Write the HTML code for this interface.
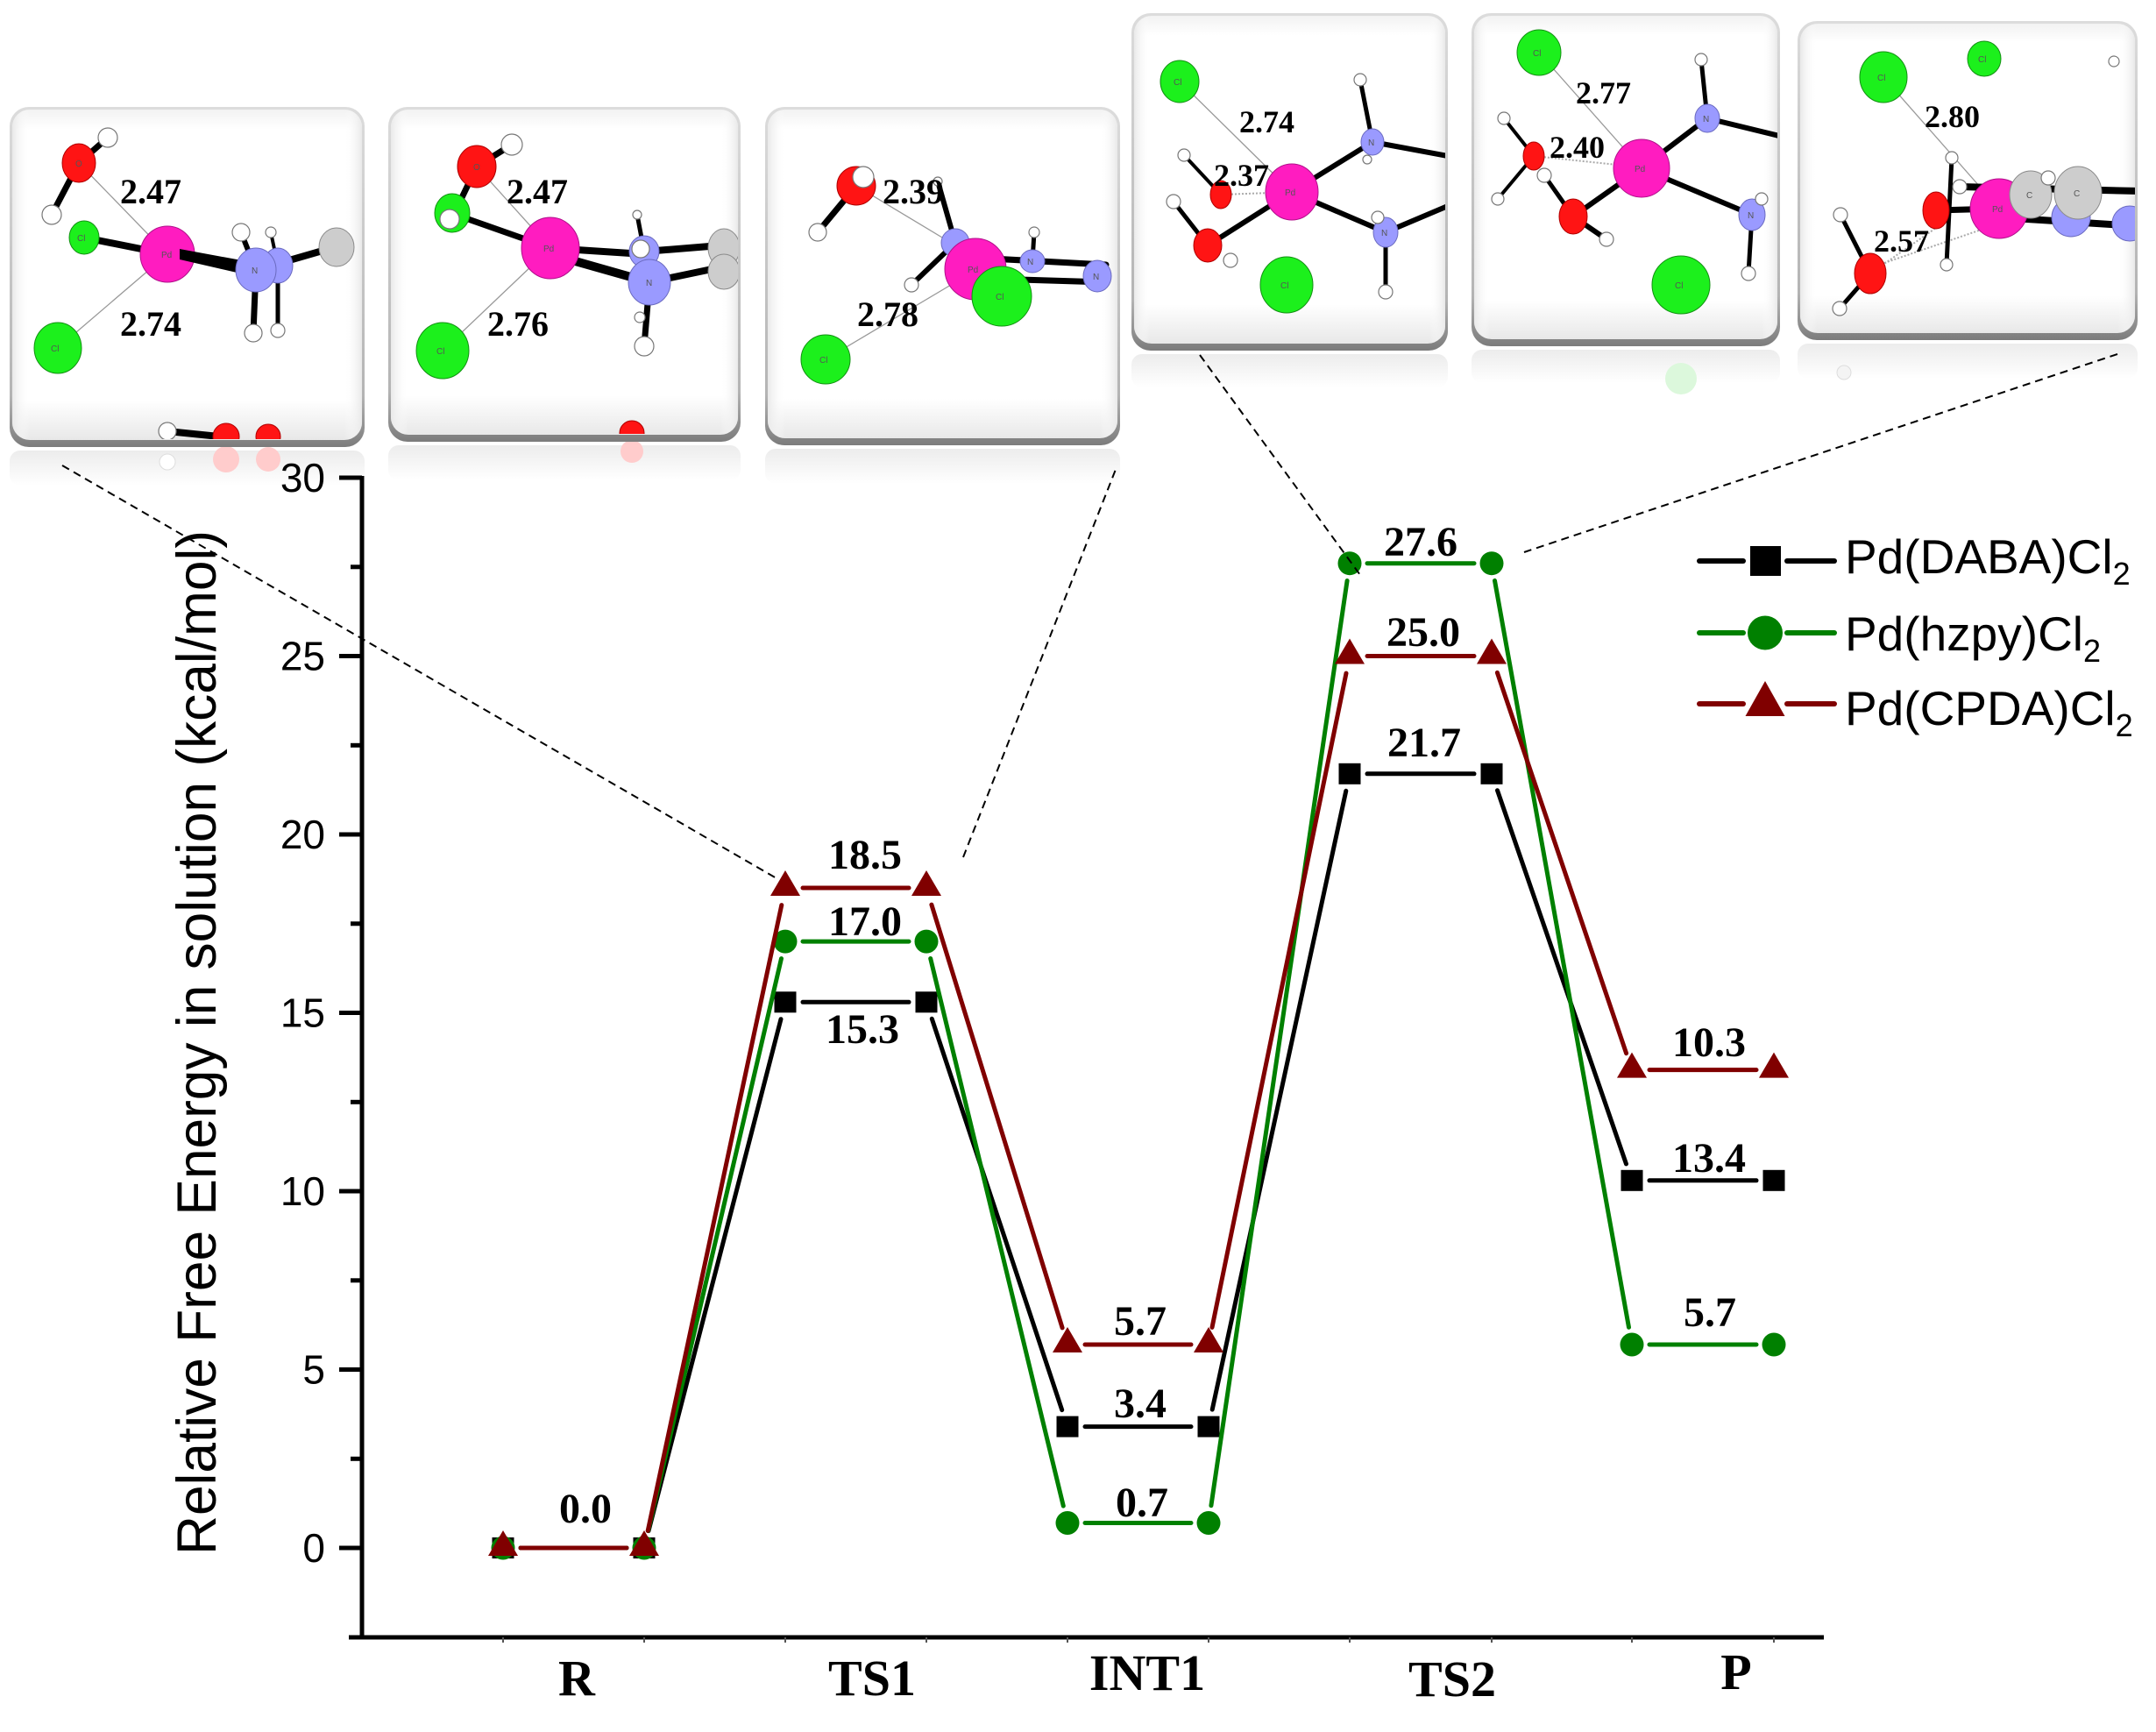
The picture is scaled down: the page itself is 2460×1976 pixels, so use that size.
<!DOCTYPE html>
<html>
<head>
<meta charset="utf-8">
<style>
html,body{margin:0;padding:0;background:#fff;}
svg{display:block;}
.O{fill:#ff1414;stroke:#b00000;stroke-width:1}
.H{fill:#fff;stroke:#777;stroke-width:1.2}
.Cl{fill:#1cf01c;stroke:#129012;stroke-width:1}
.Pd{fill:#ff1cc0;stroke:#b0108a;stroke-width:1}
.N{fill:#9a9aff;stroke:#6a6ac0;stroke-width:1}
.C{fill:#cdcdcd;stroke:#8a8a8a;stroke-width:1}
.b{stroke:#000;stroke-linecap:round}
.t{stroke:#999;stroke-width:1.3}
.d{stroke:#aaa;stroke-width:2;stroke-dasharray:2 2}
.lab{font-family:"Liberation Serif",serif;font-weight:bold;fill:#000}
.al{font-family:"Liberation Sans",sans-serif;font-size:10px;fill:#555}
.tick{font-family:"Liberation Sans",sans-serif;font-size:46px;fill:#000}
.dl{font-family:"Liberation Serif",serif;font-weight:bold;font-size:48px;fill:#000}
.cat{font-family:"Liberation Serif",serif;font-weight:bold;font-size:58px;fill:#000}
.leg{font-family:"Liberation Sans",sans-serif;font-size:55px;fill:#000}
</style>
</head>
<body>
<svg width="2460" height="1976" viewBox="0 0 2460 1976" xmlns="http://www.w3.org/2000/svg">
<defs>
<linearGradient id="pb" x1="0" y1="0" x2="0" y2="1">
<stop offset="0" stop-color="#dcdcdc"/><stop offset="0.85" stop-color="#b4b4b4"/><stop offset="1" stop-color="#7c7c7c"/>
</linearGradient>
<linearGradient id="pf" x1="0" y1="0" x2="0" y2="1">
<stop offset="0" stop-color="#f2f2f2"/><stop offset="0.06" stop-color="#ffffff"/><stop offset="0.88" stop-color="#ffffff"/><stop offset="1" stop-color="#e8e8e8"/>
</linearGradient>
<linearGradient id="pfh" x1="0" y1="0" x2="1" y2="0">
<stop offset="0" stop-color="#e9e9e9" stop-opacity="1"/><stop offset="0.05" stop-color="#ffffff" stop-opacity="0"/><stop offset="0.95" stop-color="#ffffff" stop-opacity="0"/><stop offset="1" stop-color="#e9e9e9" stop-opacity="1"/>
</linearGradient>
<linearGradient id="rf" x1="0" y1="0" x2="0" y2="1">
<stop offset="0" stop-color="#ececec"/><stop offset="1" stop-color="#ffffff"/>
</linearGradient>
<clipPath id="c1"><rect x="14" y="125" width="399" height="376" rx="20"/></clipPath>
<clipPath id="c2"><rect x="446" y="125" width="396" height="370" rx="20"/></clipPath>
<clipPath id="c3"><rect x="876" y="125" width="399" height="374" rx="20"/></clipPath>
<clipPath id="c4"><rect x="1294" y="18" width="355" height="373" rx="20"/></clipPath>
<clipPath id="c5"><rect x="1682" y="18" width="346" height="368" rx="20"/></clipPath>
<clipPath id="c6"><rect x="2054" y="27" width="382" height="352" rx="20"/></clipPath>
</defs>

<rect width="2460" height="1976" fill="#fff"/>

<!-- Reflections -->
<rect x="11" y="514" width="405" height="40" rx="12" fill="url(#rf)"/>
<circle cx="191" cy="527" r="9" fill="#fff" stroke="#ddd"/>
<circle cx="258" cy="524" r="15" fill="#ffcccc"/>
<circle cx="306" cy="524" r="14" fill="#ffcccc"/>
<rect x="443" y="508" width="402" height="40" rx="12" fill="url(#rf)"/>
<circle cx="721" cy="515" r="13" fill="#ffcccc"/>
<rect x="873" y="512" width="405" height="40" rx="12" fill="url(#rf)"/>
<rect x="1291" y="404" width="361" height="38" rx="12" fill="url(#rf)"/>
<rect x="1679" y="399" width="352" height="38" rx="12" fill="url(#rf)"/>
<circle cx="1918" cy="432" r="18" fill="#dcf8dc"/>
<rect x="2051" y="392" width="388" height="40" rx="12" fill="url(#rf)"/>
<circle cx="2104" cy="425" r="8" fill="#f4f4f4" stroke="#ddd"/>

<!-- Panel 1 -->
<rect x="11" y="122" width="405" height="388" rx="22" fill="url(#pb)"/>
<rect x="14" y="125" width="399" height="377" rx="20" fill="url(#pf)"/>
<rect x="14" y="125" width="399" height="377" rx="20" fill="url(#pfh)"/>
<g clip-path="url(#c1)">
<line class="t" x1="90" y1="186" x2="191" y2="290"/>
<line class="t" x1="66" y1="397" x2="191" y2="290"/>
<line class="b" stroke-width="7" x1="90" y1="186" x2="123" y2="157"/>
<line class="b" stroke-width="7" x1="90" y1="186" x2="59" y2="245"/>
<line class="b" stroke-width="8" x1="96" y1="271" x2="191" y2="290"/>
<line class="b" stroke-width="8" x1="292" y1="308" x2="382" y2="282"/>
<line class="b" stroke-width="6" x1="292" y1="308" x2="275" y2="265"/>
<line class="b" stroke-width="4" x1="317" y1="303" x2="309" y2="265"/>
<line class="b" stroke-width="7" x1="292" y1="308" x2="289" y2="380"/>
<line class="b" stroke-width="5" x1="317" y1="303" x2="317" y2="377"/>
<ellipse class="N" cx="317" cy="303" rx="17" ry="20"/>
<ellipse class="Pd" cx="191" cy="290" rx="31" ry="32"/>
<polygon points="205,284 292,300 292,316 205,296" fill="#000"/>
<ellipse class="N" cx="292" cy="308" rx="23" ry="25"/>
<ellipse class="O" cx="90" cy="186" rx="19" ry="22"/>
<circle class="H" cx="123" cy="157" r="11"/>
<circle class="H" cx="59" cy="245" r="11"/>
<ellipse class="Cl" cx="96" cy="271" rx="17" ry="19"/>
<circle class="H" cx="275" cy="265" r="10"/>
<circle class="H" cx="309" cy="265" r="6"/>
<circle class="H" cx="289" cy="380" r="10"/>
<circle class="H" cx="317" cy="377" r="8"/>
<ellipse class="C" cx="384" cy="282" rx="20" ry="22"/>
<ellipse class="Cl" cx="66" cy="397" rx="27" ry="29"/>
<line class="b" stroke-width="8" x1="191" y1="492" x2="250" y2="498"/>
<circle class="H" cx="191" cy="492" r="10"/>
<circle class="O" cx="258" cy="498" r="15"/>
<circle class="O" cx="306" cy="498" r="14"/>
<text class="al" x="184" y="294">Pd</text><text class="al" x="88" y="275">Cl</text><text class="al" x="58" y="401">Cl</text><text class="al" x="287" y="312">N</text><text class="al" x="86" y="190">O</text>
</g>
<text class="lab" font-size="40" x="137" y="232">2.47</text>
<text class="lab" font-size="40" x="137" y="383">2.74</text>

<!-- Panel 2 -->
<rect x="443" y="122" width="402" height="382" rx="22" fill="url(#pb)"/>
<rect x="446" y="125" width="396" height="371" rx="20" fill="url(#pf)"/>
<rect x="446" y="125" width="396" height="371" rx="20" fill="url(#pfh)"/>
<g clip-path="url(#c2)">
<line class="t" x1="544" y1="190" x2="628" y2="283"/>
<line class="t" x1="505" y1="400" x2="628" y2="283"/>
<line class="b" stroke-width="7" x1="544" y1="190" x2="584" y2="165"/>
<line class="b" stroke-width="7" x1="544" y1="190" x2="520" y2="240"/>
<line class="b" stroke-width="7" x1="520" y1="245" x2="628" y2="283"/>
<line class="b" stroke-width="8" x1="628" y1="283" x2="735" y2="290"/>
<line class="b" stroke-width="10" x1="628" y1="290" x2="741" y2="322"/>
<line class="b" stroke-width="8" x1="735" y1="287" x2="822" y2="280"/>
<line class="b" stroke-width="8" x1="741" y1="322" x2="822" y2="305"/>
<line class="b" stroke-width="7" x1="741" y1="322" x2="735" y2="395"/>
<line class="b" stroke-width="5" x1="735" y1="287" x2="727" y2="245"/>
<ellipse class="N" cx="735" cy="287" rx="17" ry="18"/>
<circle class="H" cx="731" cy="284" r="10"/>
<ellipse class="Pd" cx="628" cy="283" rx="33" ry="35"/>
<ellipse class="N" cx="741" cy="322" rx="24" ry="26"/>
<ellipse class="C" cx="826" cy="283" rx="18" ry="22"/>
<ellipse class="C" cx="826" cy="310" rx="18" ry="20"/>
<ellipse class="O" cx="544" cy="190" rx="22" ry="24"/>
<circle class="H" cx="584" cy="165" r="12"/>
<ellipse class="Cl" cx="516" cy="243" rx="20" ry="22"/>
<circle class="H" cx="513" cy="250" r="11"/>
<circle class="H" cx="727" cy="245" r="5"/>
<circle class="H" cx="735" cy="395" r="11"/>
<circle class="H" cx="730" cy="362" r="6"/>
<ellipse class="Cl" cx="505" cy="400" rx="30" ry="32"/>
<circle class="O" cx="721" cy="494" r="14"/>
<text class="al" x="620" y="287">Pd</text><text class="al" x="498" y="404">Cl</text><text class="al" x="737" y="326">N</text><text class="al" x="540" y="194">O</text>
</g>
<text class="lab" font-size="40" x="578" y="232">2.47</text>
<text class="lab" font-size="40" x="556" y="383">2.76</text>

<!-- Panel 3 -->
<rect x="873" y="122" width="405" height="386" rx="22" fill="url(#pb)"/>
<rect x="876" y="125" width="399" height="375" rx="20" fill="url(#pf)"/>
<rect x="876" y="125" width="399" height="375" rx="20" fill="url(#pfh)"/>
<g clip-path="url(#c3)">
<line class="t" x1="977" y1="212" x2="1090" y2="280"/>
<line class="t" x1="942" y1="410" x2="1085" y2="325"/>
<line class="b" stroke-width="7" x1="977" y1="212" x2="933" y2="265"/>
<line class="b" stroke-width="6" x1="1090" y1="277" x2="1070" y2="207"/>
<line class="b" stroke-width="6" x1="1090" y1="277" x2="1040" y2="325"/>
<line class="b" stroke-width="7" x1="1130" y1="295" x2="1262" y2="302"/>
<line class="b" stroke-width="7" x1="1130" y1="318" x2="1262" y2="322"/>
<line class="b" stroke-width="5" x1="1178" y1="298" x2="1180" y2="265"/>
<ellipse class="N" cx="1090" cy="277" rx="16" ry="16"/>
<circle class="Pd" cx="1113" cy="307" r="35"/>
<ellipse class="N" cx="1178" cy="298" rx="14" ry="13"/>
<ellipse class="N" cx="1252" cy="315" rx="16" ry="18"/>
<circle class="H" cx="1180" cy="265" r="6"/>
<circle class="Cl" cx="1143" cy="338" r="34"/>
<circle class="O" cx="977" cy="212" r="22"/>
<circle class="H" cx="985" cy="202" r="12"/>
<circle class="H" cx="933" cy="265" r="10"/>
<circle class="H" cx="1070" cy="207" r="5"/>
<circle class="H" cx="1040" cy="325" r="8"/>
<circle class="Cl" cx="942" cy="410" r="28"/>
<text class="al" x="1104" y="311">Pd</text><text class="al" x="1136" y="342">Cl</text><text class="al" x="935" y="414">Cl</text><text class="al" x="1172" y="302">N</text><text class="al" x="1247" y="319">N</text>
</g>
<text class="lab" font-size="40" x="1007" y="232">2.39</text>
<text class="lab" font-size="40" x="978" y="372">2.78</text>

<!-- Panel 4 -->
<rect x="1291" y="15" width="361" height="385" rx="22" fill="url(#pb)"/>
<rect x="1294" y="18" width="355" height="374" rx="20" fill="url(#pf)"/>
<rect x="1294" y="18" width="355" height="374" rx="20" fill="url(#pfh)"/>
<g clip-path="url(#c4)">
<line class="t" x1="1346" y1="93" x2="1474" y2="219"/>
<line class="d" x1="1393" y1="222" x2="1450" y2="220"/>
<line class="b" stroke-width="5" x1="1566" y1="162" x2="1552" y2="91"/>
<line class="b" stroke-width="6" x1="1566" y1="162" x2="1652" y2="178"/>
<line class="b" stroke-width="6" x1="1474" y1="219" x2="1566" y2="162"/>
<line class="b" stroke-width="4" x1="1393" y1="222" x2="1351" y2="177"/>
<line class="b" stroke-width="5" x1="1339" y1="230" x2="1378" y2="280"/>
<line class="b" stroke-width="6" x1="1474" y1="219" x2="1378" y2="280"/>
<line class="b" stroke-width="6" x1="1474" y1="219" x2="1581" y2="265"/>
<line class="b" stroke-width="5" x1="1581" y1="265" x2="1581" y2="333"/>
<line class="b" stroke-width="6" x1="1581" y1="265" x2="1652" y2="235"/>
<ellipse class="Cl" cx="1346" cy="93" rx="22" ry="24"/>
<ellipse class="N" cx="1566" cy="162" rx="13" ry="15"/>
<circle class="H" cx="1552" cy="91" r="7"/>
<circle class="H" cx="1560" cy="182" r="5"/>
<ellipse class="O" cx="1393" cy="222" rx="12" ry="16"/>
<circle class="H" cx="1351" cy="177" r="7"/>
<circle class="H" cx="1339" cy="230" r="8"/>
<ellipse class="Pd" cx="1474" cy="219" rx="30" ry="32"/>
<ellipse class="O" cx="1378" cy="280" rx="16" ry="19"/>
<circle class="H" cx="1404" cy="297" r="8"/>
<ellipse class="N" cx="1581" cy="265" rx="14" ry="17"/>
<circle class="H" cx="1572" cy="248" r="7"/>
<circle class="H" cx="1581" cy="333" r="8"/>
<ellipse class="Cl" cx="1468" cy="325" rx="30" ry="32"/>
<text class="al" x="1466" y="223">Pd</text><text class="al" x="1339" y="97">Cl</text><text class="al" x="1461" y="329">Cl</text><text class="al" x="1561" y="166">N</text><text class="al" x="1576" y="269">N</text>
</g>
<text class="lab" font-size="36" x="1414" y="151">2.74</text>
<text class="lab" font-size="36" x="1385" y="212">2.37</text>

<!-- Panel 5 -->
<rect x="1679" y="15" width="352" height="380" rx="22" fill="url(#pb)"/>
<rect x="1682" y="18" width="346" height="369" rx="20" fill="url(#pf)"/>
<rect x="1682" y="18" width="346" height="369" rx="20" fill="url(#pfh)"/>
<g clip-path="url(#c5)">
<line class="t" x1="1756" y1="60" x2="1873" y2="192"/>
<line class="d" x1="1750" y1="178" x2="1845" y2="188"/>
<line class="b" stroke-width="5" x1="1948" y1="135" x2="1941" y2="68"/>
<line class="b" stroke-width="6" x1="1948" y1="135" x2="2030" y2="155"/>
<line class="b" stroke-width="6" x1="1873" y1="192" x2="1948" y2="135"/>
<line class="b" stroke-width="4" x1="1750" y1="178" x2="1716" y2="135"/>
<line class="b" stroke-width="4" x1="1750" y1="178" x2="1709" y2="227"/>
<line class="b" stroke-width="5" x1="1762" y1="200" x2="1795" y2="247"/>
<line class="b" stroke-width="6" x1="1795" y1="247" x2="1833" y2="273"/>
<line class="b" stroke-width="6" x1="1873" y1="192" x2="1795" y2="247"/>
<line class="b" stroke-width="6" x1="1873" y1="192" x2="1999" y2="245"/>
<line class="b" stroke-width="5" x1="1999" y1="245" x2="1995" y2="312"/>
<ellipse class="Cl" cx="1756" cy="60" rx="25" ry="26"/>
<ellipse class="N" cx="1948" cy="135" rx="14" ry="16"/>
<circle class="H" cx="1941" cy="68" r="7"/>
<ellipse class="O" cx="1750" cy="178" rx="12" ry="16"/>
<circle class="H" cx="1716" cy="135" r="7"/>
<circle class="H" cx="1709" cy="227" r="7"/>
<circle class="H" cx="1762" cy="200" r="8"/>
<ellipse class="Pd" cx="1873" cy="192" rx="32" ry="33"/>
<ellipse class="O" cx="1795" cy="247" rx="16" ry="20"/>
<circle class="H" cx="1833" cy="273" r="8"/>
<ellipse class="N" cx="1999" cy="245" rx="15" ry="18"/>
<circle class="H" cx="2010" cy="227" r="7"/>
<circle class="H" cx="1995" cy="312" r="8"/>
<circle class="Cl" cx="1918" cy="325" r="33"/>
<text class="al" x="1865" y="196">Pd</text><text class="al" x="1749" y="64">Cl</text><text class="al" x="1911" y="329">Cl</text><text class="al" x="1943" y="139">N</text><text class="al" x="1994" y="249">N</text>
</g>
<text class="lab" font-size="36" x="1798" y="118">2.77</text>
<text class="lab" font-size="36" x="1768" y="180">2.40</text>

<!-- Panel 6 -->
<rect x="2051" y="24" width="388" height="364" rx="22" fill="url(#pb)"/>
<rect x="2054" y="27" width="382" height="353" rx="20" fill="url(#pf)"/>
<rect x="2054" y="27" width="382" height="353" rx="20" fill="url(#pfh)"/>
<g clip-path="url(#c6)">
<line class="t" x1="2149" y1="88" x2="2281" y2="238"/>
<line class="d" x1="2134" y1="312" x2="2209" y2="260"/>
<line class="d" x1="2150" y1="300" x2="2281" y2="255"/>
<line class="b" stroke-width="5" x1="2227" y1="180" x2="2221" y2="302"/>
<line class="b" stroke-width="7" x1="2209" y1="240" x2="2281" y2="238"/>
<line class="b" stroke-width="8" x1="2236" y1="213" x2="2440" y2="218"/>
<line class="b" stroke-width="8" x1="2281" y1="248" x2="2440" y2="258"/>
<line class="b" stroke-width="5" x1="2134" y1="312" x2="2100" y2="245"/>
<line class="b" stroke-width="5" x1="2134" y1="312" x2="2099" y2="352"/>
<ellipse class="Cl" cx="2149" cy="88" rx="27" ry="29"/>
<ellipse class="Cl" cx="2264" cy="67" rx="19" ry="20"/>
<circle class="H" cx="2412" cy="70" r="6"/>
<circle class="H" cx="2227" cy="180" r="7"/>
<circle class="H" cx="2221" cy="302" r="7"/>
<ellipse class="O" cx="2209" cy="240" rx="15" ry="21"/>
<circle class="H" cx="2236" cy="213" r="8"/>
<ellipse class="Pd" cx="2281" cy="238" rx="33" ry="34"/>
<circle class="N" cx="2363" cy="248" r="22"/>
<circle class="N" cx="2430" cy="255" r="20"/>
<ellipse class="C" cx="2317" cy="222" rx="24" ry="27"/>
<ellipse class="C" cx="2371" cy="220" rx="27" ry="30"/>
<circle class="H" cx="2337" cy="203" r="8"/>
<ellipse class="O" cx="2134" cy="312" rx="18" ry="23"/>
<circle class="H" cx="2100" cy="245" r="8"/>
<circle class="H" cx="2099" cy="352" r="8"/>
<text class="al" x="2273" y="242">Pd</text><text class="al" x="2142" y="92">Cl</text><text class="al" x="2257" y="71">Cl</text><text class="al" x="2312" y="226">C</text><text class="al" x="2366" y="224">C</text>
</g>
<text class="lab" font-size="36" x="2196" y="145">2.80</text>
<text class="lab" font-size="36" x="2138" y="287">2.57</text>

<!-- Axes -->
<g stroke="#000" stroke-width="5">
<line x1="413" y1="543" x2="413" y2="1870"/>
<line x1="398" y1="1868" x2="2081" y2="1868"/>
<line x1="387" y1="1766" x2="413" y2="1766"/>
<line x1="387" y1="1562.5" x2="413" y2="1562.5"/>
<line x1="387" y1="1359" x2="413" y2="1359"/>
<line x1="387" y1="1155.5" x2="413" y2="1155.5"/>
<line x1="387" y1="952" x2="413" y2="952"/>
<line x1="387" y1="748.5" x2="413" y2="748.5"/>
<line x1="387" y1="545" x2="413" y2="545"/>
<line x1="400" y1="1664.3" x2="413" y2="1664.3"/>
<line x1="400" y1="1460.8" x2="413" y2="1460.8"/>
<line x1="400" y1="1257.3" x2="413" y2="1257.3"/>
<line x1="400" y1="1053.8" x2="413" y2="1053.8"/>
<line x1="400" y1="850.3" x2="413" y2="850.3"/>
<line x1="400" y1="646.8" x2="413" y2="646.8"/>
</g>
<g stroke="#555" stroke-width="2">
<line x1="574" y1="1868" x2="574" y2="1874"/><line x1="735" y1="1868" x2="735" y2="1874"/>
<line x1="896" y1="1868" x2="896" y2="1874"/><line x1="1057" y1="1868" x2="1057" y2="1874"/>
<line x1="1218" y1="1868" x2="1218" y2="1874"/><line x1="1379" y1="1868" x2="1379" y2="1874"/>
<line x1="1540" y1="1868" x2="1540" y2="1874"/><line x1="1702" y1="1868" x2="1702" y2="1874"/>
<line x1="1862" y1="1868" x2="1862" y2="1874"/><line x1="2024" y1="1868" x2="2024" y2="1874"/>
</g>
<g class="tick" text-anchor="end">
<text x="371" y="1782">0</text>
<text x="371" y="1578.5">5</text>
<text x="371" y="1375">10</text>
<text x="371" y="1171.5">15</text>
<text x="371" y="968">20</text>
<text x="371" y="764.5">25</text>
<text x="371" y="561">30</text>
</g>
<text transform="translate(246,1189.5) rotate(-90)" text-anchor="middle" font-family="Liberation Sans, sans-serif" font-size="63" textLength="1169" lengthAdjust="spacingAndGlyphs">Relative Free Energy in solution (kcal/mol)</text>

<g class="cat" text-anchor="middle">
<text x="658" y="1934">R</text>
<text x="995" y="1934">TS1</text>
<text x="1309" y="1928">INT1</text>
<text x="1657" y="1935">TS2</text>
<text x="1981" y="1927">P</text>
</g>

<!-- Series: black -->
<g stroke="#000" stroke-width="5" stroke-linecap="round" fill="none">
<line x1="594" y1="1766" x2="715" y2="1766"/>
<line x1="740" y1="1746.6" x2="891" y2="1162.7"/>
<line x1="916" y1="1143.3" x2="1037" y2="1143.3"/>
<line x1="1063.3" y1="1162.3" x2="1211.7" y2="1608.6"/>
<line x1="1238" y1="1627.6" x2="1359" y2="1627.6"/>
<line x1="1383.2" y1="1608.1" x2="1535.8" y2="902.3"/>
<line x1="1560" y1="882.8" x2="1682" y2="882.8"/>
<line x1="1708.5" y1="901.7" x2="1855.5" y2="1327.9"/>
<line x1="1882" y1="1346.8" x2="2004" y2="1346.8"/>
</g>
<g fill="#000">
<rect x="561.5" y="1754" width="25" height="24"/><rect x="722.5" y="1754" width="25" height="24"/>
<rect x="883.5" y="1131.3" width="25" height="24"/><rect x="1044.5" y="1131.3" width="25" height="24"/>
<rect x="1205.5" y="1615.6" width="25" height="24"/><rect x="1366.5" y="1615.6" width="25" height="24"/>
<rect x="1527.5" y="870.8" width="25" height="24"/><rect x="1689.5" y="870.8" width="25" height="24"/>
<rect x="1849.5" y="1334.8" width="25" height="24"/><rect x="2011.5" y="1334.8" width="25" height="24"/>
</g>

<!-- Series: green -->
<g stroke="#008000" stroke-width="5" stroke-linecap="round" fill="none">
<line x1="594" y1="1766" x2="715" y2="1766"/>
<line x1="739.5" y1="1746.5" x2="891.5" y2="1093.6"/>
<line x1="916" y1="1074.1" x2="1037" y2="1074.1"/>
<line x1="1061.7" y1="1093.5" x2="1213.3" y2="1718.1"/>
<line x1="1238" y1="1737.5" x2="1359" y2="1737.5"/>
<line x1="1381.9" y1="1717.7" x2="1537.1" y2="662.5"/>
<line x1="1560" y1="642.7" x2="1682" y2="642.7"/>
<line x1="1705.5" y1="662.4" x2="1858.5" y2="1514.3"/>
<line x1="1882" y1="1534" x2="2004" y2="1534"/>
</g>
<g fill="#008000">
<circle cx="574" cy="1766" r="13.5"/><circle cx="735" cy="1766" r="13.5"/>
<circle cx="896" cy="1074.1" r="13.5"/><circle cx="1057" cy="1074.1" r="13.5"/>
<circle cx="1218" cy="1737.5" r="13.5"/><circle cx="1379" cy="1737.5" r="13.5"/>
<circle cx="1540" cy="642.7" r="13.5"/><circle cx="1702" cy="642.7" r="13.5"/>
<circle cx="1862" cy="1534" r="13.5"/><circle cx="2024" cy="1534" r="13.5"/>
</g>

<!-- Series: red -->
<g stroke="#800000" stroke-width="5" stroke-linecap="round" fill="none">
<line x1="594" y1="1766" x2="715" y2="1766"/>
<line x1="739.2" y1="1746.4" x2="891.8" y2="1032.6"/>
<line x1="916" y1="1013" x2="1037" y2="1013"/>
<line x1="1062.9" y1="1032.1" x2="1212.1" y2="1514.9"/>
<line x1="1238" y1="1534" x2="1359" y2="1534"/>
<line x1="1383" y1="1514.4" x2="1536" y2="768.1"/>
<line x1="1560" y1="748.5" x2="1682" y2="748.5"/>
<line x1="1708.4" y1="767.4" x2="1855.6" y2="1201.7"/>
<line x1="1882" y1="1220.6" x2="2004" y2="1220.6"/>
</g>
<g fill="#800000">
<polygon points="574,1746 557,1775 591,1775"/><polygon points="735,1746 718,1775 752,1775"/>
<polygon points="896,993 879,1022 913,1022"/><polygon points="1057,993 1040,1022 1074,1022"/>
<polygon points="1218,1514 1201,1543 1235,1543"/><polygon points="1379,1514 1362,1543 1396,1543"/>
<polygon points="1540,728.5 1523,757.5 1557,757.5"/><polygon points="1702,728.5 1685,757.5 1719,757.5"/>
<polygon points="1862,1200.6 1845,1229.6 1879,1229.6"/><polygon points="2024,1200.6 2007,1229.6 2041,1229.6"/>
</g>

<!-- Data labels -->
<g class="dl" text-anchor="middle">
<text x="668" y="1737">0.0</text>
<text x="987" y="991">18.5</text>
<text x="987" y="1067">17.0</text>
<text x="984" y="1190">15.3</text>
<text x="1301" y="1523">5.7</text>
<text x="1301" y="1617">3.4</text>
<text x="1303" y="1730">0.7</text>
<text x="1621" y="634">27.6</text>
<text x="1624" y="737">25.0</text>
<text x="1625" y="863">21.7</text>
<text x="1950" y="1205">10.3</text>
<text x="1950" y="1337">13.4</text>
<text x="1951" y="1513">5.7</text>
</g>

<!-- Dashed connectors -->
<g stroke="#000" stroke-width="2" stroke-dasharray="9 6" fill="none">
<line x1="71" y1="531" x2="886" y2="1002"/>
<line x1="1099" y1="978" x2="1274" y2="533"/>
<line x1="1369" y1="405" x2="1552" y2="656"/>
<line x1="2416" y1="404" x2="1739" y2="630"/>
</g>

<!-- Legend -->
<g stroke-width="6" stroke-linecap="round">
<line x1="1939" y1="640" x2="1989" y2="640" stroke="#000"/>
<line x1="2039" y1="640" x2="2093" y2="640" stroke="#000"/>
<line x1="1939" y1="722" x2="1989" y2="722" stroke="#008000"/>
<line x1="2039" y1="722" x2="2093" y2="722" stroke="#008000"/>
<line x1="1939" y1="803" x2="1989" y2="803" stroke="#800000"/>
<line x1="2039" y1="803" x2="2093" y2="803" stroke="#800000"/>
</g>
<rect x="1997" y="623" width="35" height="34" fill="#000"/>
<ellipse cx="2014" cy="722" rx="20" ry="19.5" fill="#008000"/>
<polygon points="2014,777 1991.5,817 2036.5,817" fill="#800000"/>
<g class="leg">
<text x="2105" y="654">Pd(DABA)Cl<tspan font-size="36" dy="13">2</tspan></text>
<text x="2105" y="742">Pd(hzpy)Cl<tspan font-size="36" dy="13">2</tspan></text>
<text x="2105" y="827">Pd(CPDA)Cl<tspan font-size="36" dy="13">2</tspan></text>
</g>
</svg>
</body>
</html>
